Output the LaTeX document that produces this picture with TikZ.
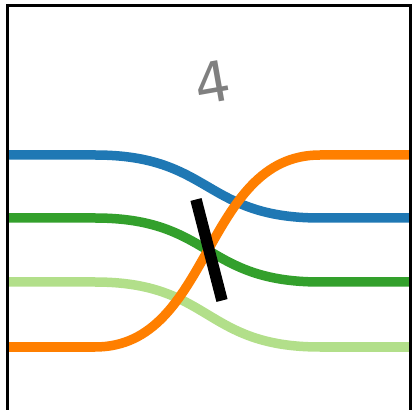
\documentclass[tikz,border=0pt]{standalone}
\usepackage{fontspec}
\newfontfamily\digitfont{DejaVu Sans}
\definecolor{pblue}{HTML}{1F78B4}
\definecolor{pgreen}{HTML}{33A02C}
\definecolor{plgreen}{HTML}{B2DF8A}
\definecolor{porange}{HTML}{FF7F00}
\definecolor{lblgray}{HTML}{808080}
\tikzset{
  strand/.style={line width=9.5pt},
  frame/.style={line width=3pt, black},
  barline/.style={line width=11.5pt, black}
}
\begin{document}
\begin{tikzpicture}[x=1pt,y=1pt]
\useasboundingbox (0,0) rectangle (414,409);
% strands
\coordinate (b0) at (8,254);   \coordinate (b1) at (95,254);  \coordinate (b2) at (320,191); \coordinate (b3) at (410,191);
\coordinate (g0) at (8,191);   \coordinate (g1) at (95,191);  \coordinate (g2) at (320,127); \coordinate (g3) at (410,127);
\coordinate (l0) at (8,127);   \coordinate (l1) at (95,127);  \coordinate (l2) at (320,62);  \coordinate (l3) at (410,62);
\coordinate (o0) at (8,62);    \coordinate (o1) at (95,62);   \coordinate (o2) at (320,254); \coordinate (o3) at (410,254);
\draw[strand, pblue] (b0) -- (b1) .. controls (212,254) and (203,191) .. (b2) -- (b3);
\draw[strand, pgreen] (g0) -- (g1) .. controls (212,191) and (203,127) .. (g2) -- (g3);
\draw[strand, plgreen] (l0) -- (l1) .. controls (212,127) and (203,62) .. (l2) -- (l3);
\draw[strand, porange] (o0) -- (o1) .. controls (212,62) and (203,254) .. (o2) -- (o3);
% bar
\coordinate (t0) at (196,209.5);
\coordinate (t1) at (222,108.5);
\draw[barline] (t0) -- (t1);
% frame
\coordinate (f0) at (7.5,-5);
\coordinate (f1) at (7.5,403);
\coordinate (f2) at (410.5,403);
\coordinate (f3) at (410.5,-5);
\draw[frame] (f0) -- (f1) -- (f2) -- (f3);
% label
\node[text=lblgray, font=\digitfont\fontsize{56}{56}\selectfont, rotate=10] (lbl) at (212,327) {4};
\end{tikzpicture}
\end{document}
